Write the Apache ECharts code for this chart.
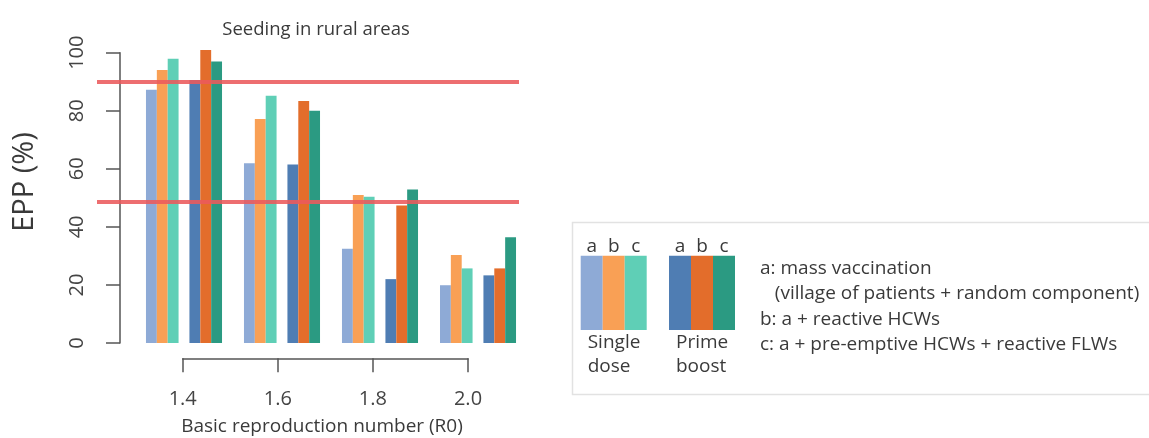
<!DOCTYPE html>
<html lang="en">
<head>
    <meta charset="UTF-8">
    <title>Seeding in rural areas</title>
    <script src="https://cdn.jsdelivr.net/npm/echarts@6/dist/echarts.min.js"></script>
    <style>
        html, body { margin: 0; padding: 0; background: #fff; }
        #chart { width: 1149px; height: 438px; }
    </style>
</head>
<body>
    <div id="chart"></div>

    <script>
        // R0 categories and EPP (%) values
        var r0Labels = ['1.4', '1.6', '1.8', '2.0'];
        var singleA = [87.2, 61.9, 32.5, 19.9];
        var singleB = [94.0, 77.2, 51.0, 30.3];
        var singleC = [97.9, 85.2, 50.4, 25.7];
        var primeA = [90.6, 61.5, 22.0, 23.3];
        var primeB = [100.9, 83.4, 47.4, 25.7];
        var primeC = [97.0, 80.0, 52.9, 36.4];
        var thresholds = [90.0, 48.7];

        var singleColors = ['#8eaad6', '#f9a055', '#5fcfb6'];
        var primeColors = ['#4f7db3', '#e36d2b', '#2b9a82'];
        var schemeNames = ['a', 'b', 'c'];
        var legendLines = [
            'a: mass vaccination',
            '   (village of patients + random component)',
            'b: a + reactive HCWs',
            'c: a + pre-emptive HCWs + reactive FLWs'
        ];

        var font = '"Open Sans", "Noto Sans", sans-serif';
        var axisColor = '#555';
        var textColor = '#3a3a3a';

        function barSeries(name, data, color) {
            return {
                name: name,
                type: 'bar',
                xAxisIndex: 0,
                yAxisIndex: 0,
                data: data,
                clip: false,
                barGap: '0%',
                barCategoryGap: '22.4%',
                itemStyle: { color: color },
                silent: true
            };
        }

        var series = [
            barSeries('Single a', singleA, singleColors[0]),
            barSeries('Single b', singleB, singleColors[1]),
            barSeries('Single c', singleC, singleColors[2]),
            // empty slot between the two dose schemes
            barSeries('gap', r0Labels.map(function () { return null; }), 'transparent'),
            barSeries('Prime a', primeA, primeColors[0]),
            barSeries('Prime b', primeB, primeColors[1]),
            barSeries('Prime c', primeC, primeColors[2]),
            {
                type: 'line',
                xAxisIndex: 1,
                yAxisIndex: 1,
                data: [],
                z: 5,
                markLine: {
                    silent: true,
                    symbol: 'none',
                    label: { show: false },
                    lineStyle: { color: '#ea5a5c', width: 4, type: 'solid', opacity: 0.88 },
                    data: thresholds.map(function (v) { return { yAxis: v }; })
                }
            }
        ];

        // legend and axis-title graphics
        var graphics = [
            {
                type: 'rect',
                shape: { x: 572.5, y: 222.5, width: 620, height: 172 },
                style: { fill: 'none', stroke: '#e2e2e2', lineWidth: 1.5 }
            },
            {
                type: 'text',
                x: 25, y: 182, rotation: Math.PI / 2,
                style: { text: 'EPP (%)', font: '29px ' + font, fill: textColor, textAlign: 'center', textVerticalAlign: 'middle' }
            },
            {
                type: 'text',
                x: 322, y: 427,
                style: { text: 'Basic reproduction number (R0)', font: '19px ' + font, fill: textColor, textAlign: 'center', textVerticalAlign: 'middle' }
            }
        ];
        function addSwatch(x0, colors, labelTop, labelBottom) {
            colors.forEach(function (c, i) {
                graphics.push({
                    type: 'rect',
                    shape: { x: x0 + i * 22, y: 255.7, width: 22, height: 74.3 },
                    style: { fill: c }
                });
                graphics.push({
                    type: 'text',
                    x: x0 + i * 22 + 11, y: 246.5,
                    style: { text: schemeNames[i], font: '19px ' + font, fill: textColor, textAlign: 'center', textVerticalAlign: 'middle' }
                });
            });
            graphics.push({
                type: 'text',
                x: x0 + 7, y: 343,
                style: { text: labelTop, font: '19px ' + font, fill: textColor, textVerticalAlign: 'middle' }
            });
            graphics.push({
                type: 'text',
                x: x0 + 7, y: 367,
                style: { text: labelBottom, font: '19px ' + font, fill: textColor, textVerticalAlign: 'middle' }
            });
        }
        addSwatch(580.7, singleColors, 'Single', 'dose');
        addSwatch(669, primeColors, 'Prime', 'boost');
        var lineY = [268.3, 293.3, 320, 345];
        legendLines.forEach(function (t, i) {
            graphics.push({
                type: 'text',
                x: 760, y: lineY[i],
                style: { text: t, font: '19px ' + font, fill: textColor, textVerticalAlign: 'middle' }
            });
        });

        var chart = echarts.init(document.getElementById('chart'));
        chart.setOption({
            animation: false,
            backgroundColor: '#fff',
            title: {
                text: 'Seeding in rural areas',
                left: 311,
                top: 15,
                textAlign: 'center',
                textStyle: { fontFamily: font, fontSize: 18.5, fontWeight: 'normal', color: textColor }
            },
            grid: [
                { left: 135, right: 1149 - 527, top: 52.7, bottom: 438 - 343 },
                { left: 97, right: 1149 - 519, top: 52.7, bottom: 438 - 343 },
                { left: 182.7, right: 1149 - 468, top: 300, bottom: 438 - 358.3 }
            ],
            xAxis: [
                { gridIndex: 0, type: 'category', data: r0Labels, show: false },
                { gridIndex: 1, type: 'value', min: 0, max: 1, show: false },
                {
                    gridIndex: 2,
                    type: 'category',
                    data: r0Labels,
                    boundaryGap: false,
                    axisLine: { lineStyle: { color: axisColor, width: 1.5 } },
                    axisTick: { inside: false, length: 14, lineStyle: { color: axisColor, width: 1.5 } },
                    axisLabel: { margin: 31, fontFamily: font, fontSize: 20, color: '#444' },
                    splitLine: { show: false }
                }
            ],
            yAxis: [
                {
                    gridIndex: 0,
                    type: 'value',
                    min: 0,
                    max: 100,
                    interval: 20,
                    offset: 15,
                    axisLine: { show: true, lineStyle: { color: axisColor, width: 1.5 } },
                    axisTick: { show: true, inside: false, length: 14, lineStyle: { color: axisColor, width: 1.5 } },
                    axisLabel: { rotate: 90, margin: 33, fontFamily: font, fontSize: 20, color: '#444' },
                    splitLine: { show: false }
                },
                { gridIndex: 1, type: 'value', min: 0, max: 100, show: false },
                { gridIndex: 2, type: 'value', show: false }
            ],
            graphic: graphics,
            series: series
        });
    </script>
</body>
</html>
